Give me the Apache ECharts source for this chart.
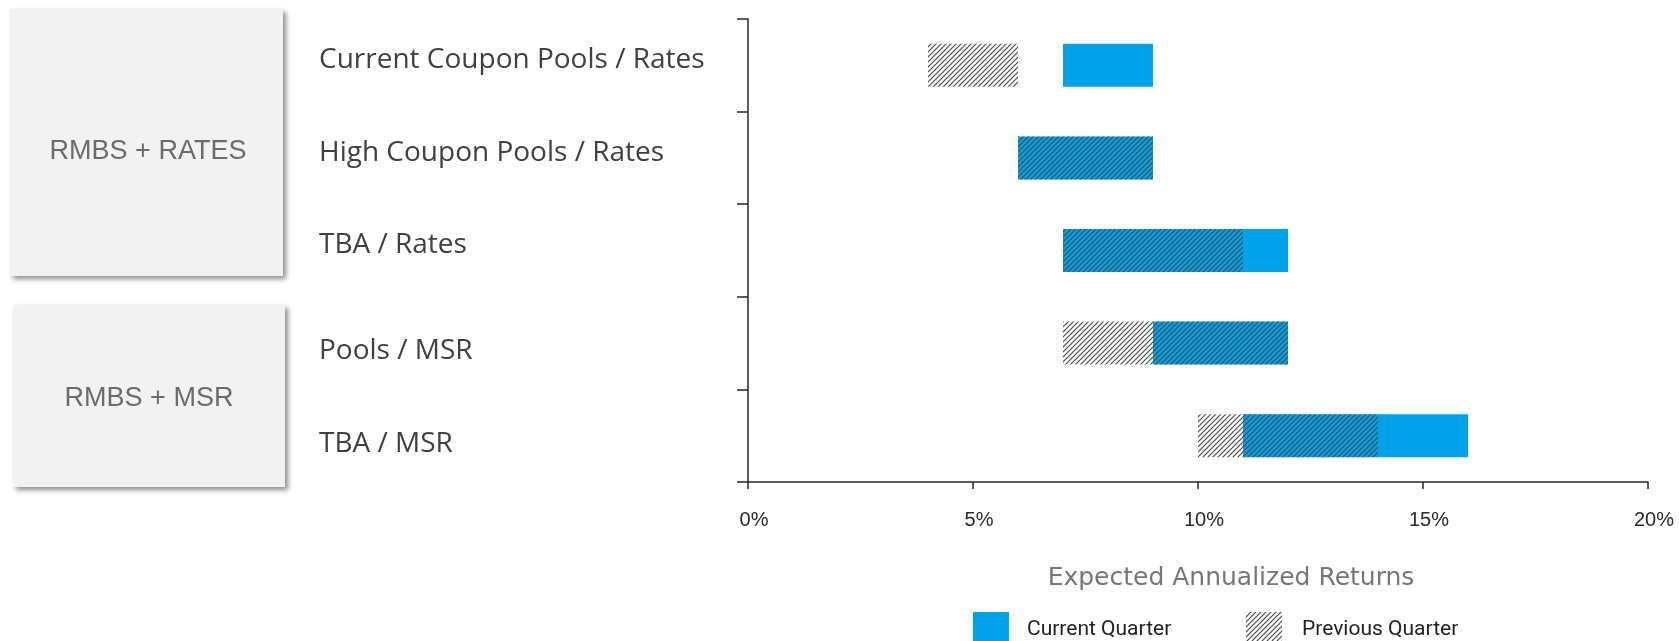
<!DOCTYPE html>
<html>
<head>
<meta charset="utf-8">
<script src="https://cdn.jsdelivr.net/npm/echarts@6/dist/echarts.min.js"></script>
<style>
html,body{margin:0;padding:0;background:#fff;}
#chart{width:1679px;height:641px;}
</style>
</head>
<body>
<div id="chart"></div>
<script>
// ---- data ----
const categories = ['Current Coupon Pools / Rates', 'High Coupon Pools / Rates', 'TBA / Rates', 'Pools / MSR', 'TBA / MSR'];
const currentLow = [7, 6, 7, 9, 11];
const currentHigh = [9, 9, 12, 12, 16];
const previousLow = [4, 6, 7, 7, 10];
const previousHigh = [6, 9, 11, 12, 14];
const xMin = 0, xMax = 20, xStep = 5;
const groupLabels = ['RMBS + RATES', 'RMBS + MSR'];
const seriesNames = ['Current Quarter', 'Previous Quarter'];
const axisTitle = 'Expected Annualized Returns';

// ---- styles ----
const BLUE = '#00A2EA';
function hatchCanvas() {
  const c = document.createElement('canvas');
  c.width = 5; c.height = 5;
  const g = c.getContext('2d');
  g.strokeStyle = '#4a4a4a';
  g.lineWidth = 1.2;
  g.beginPath();
  g.moveTo(0, 5); g.lineTo(5, 0);
  g.moveTo(-1, 1); g.lineTo(1, -1);
  g.moveTo(4, 6); g.lineTo(6, 4);
  g.stroke();
  return c;
}
const hatch = { image: hatchCanvas(), repeat: 'repeat' };

const chart = echarts.init(document.getElementById('chart'), null, { renderer: 'canvas' });
const BW = 43;
const option = {
  animation: false,
  grid: { left: 748, top: 19, right: 31, bottom: 159, containLabel: false },
  xAxis: {
    type: 'value', min: xMin, max: xMax, interval: xStep,
    axisLine: { show: true, lineStyle: { color: '#262626', width: 1.5 } },
    axisTick: { show: true, length: 7, lineStyle: { color: '#262626', width: 1.5 } },
    splitLine: { show: false },
    axisLabel: { formatter: '{value}%', color: '#2a2a2a', fontSize: 20, fontFamily: 'Liberation Sans', margin: 28, padding: [0, 0, 0, 12] },
    name: axisTitle, nameLocation: 'middle', nameGap: 84,
    nameTextStyle: { color: '#767676', fontSize: 25, fontFamily: 'DejaVu Sans', padding: [0, 0, 0, 66] }
  },
  yAxis: {
    type: 'category', inverse: true, data: categories,
    axisLine: { show: true, lineStyle: { color: '#262626', width: 1.5 } },
    axisTick: { show: true, length: 11, lineStyle: { color: '#262626', width: 1.5 } },
    axisLabel: {
      align: 'left', margin: 429, color: '#404040', fontSize: 28, fontFamily: 'Open Sans',
      formatter: (v, i) => (i < 3 ? '{a|' + v + '}' : '{b|' + v + '}'),
      rich: {
        a: { fontSize: 28, fontFamily: 'Open Sans', color: '#404040', padding: [0, 0, 10, 0] },
        b: { fontSize: 28, fontFamily: 'Open Sans', color: '#404040', padding: [16, 0, 0, 0] }
      }
    }
  },
  legend: [
    { data: [seriesNames[0]], left: 973, top: 612, padding: 0, icon: 'rect', itemWidth: 36, itemHeight: 35,
      selectedMode: false,
      textStyle: { fontSize: 21, fontFamily: "'Liberation Sans Narrow', Roboto", color: '#222', padding: [0, 0, 0, 13] } },
    { data: [seriesNames[1]], left: 1246, top: 612, padding: 0, icon: 'rect', itemWidth: 36, itemHeight: 35,
      selectedMode: false,
      textStyle: { fontSize: 21, fontFamily: "'Liberation Sans Narrow', Roboto", color: '#222', padding: [0, 0, 0, 15] } }
  ],
  graphic: [
    { type: 'rect', shape: { x: 10, y: 9, width: 273, height: 267 },
      style: { fill: '#f2f2f2', shadowBlur: 5, shadowOffsetX: 3, shadowOffsetY: 3, shadowColor: 'rgba(0,0,0,0.45)' }, z: 0 },
    { type: 'text', x: 148, y: 152, z: 1,
      style: { text: groupLabels[0], fontSize: 27, fontFamily: 'Liberation Sans', fill: '#6b6b6b', align: 'center', verticalAlign: 'middle' } },
    { type: 'rect', shape: { x: 13, y: 305, width: 272, height: 182 },
      style: { fill: '#f2f2f2', shadowBlur: 5, shadowOffsetX: 3, shadowOffsetY: 3, shadowColor: 'rgba(0,0,0,0.45)' }, z: 0 },
    { type: 'text', x: 149, y: 399, z: 1,
      style: { text: groupLabels[1], fontSize: 27, fontFamily: 'Liberation Sans', fill: '#6b6b6b', align: 'center', verticalAlign: 'middle' } }
  ],
  series: [
    { type: 'bar', stack: 'cur', data: currentLow, barWidth: BW, barGap: '-100%', silent: true,
      itemStyle: { color: 'transparent' } },
    { type: 'bar', stack: 'cur', name: seriesNames[0], data: currentHigh.map((h, i) => h - currentLow[i]),
      barWidth: BW, barGap: '-100%', itemStyle: { color: BLUE } },
    { type: 'bar', stack: 'prev', data: previousLow, barWidth: BW, barGap: '-100%', silent: true,
      itemStyle: { color: 'transparent' } },
    { type: 'bar', stack: 'prev', name: seriesNames[1], data: previousHigh.map((h, i) => h - previousLow[i]),
      barWidth: BW, barGap: '-100%', itemStyle: { color: hatch } }
  ]
};
chart.setOption(option);
</script>
</body>
</html>
